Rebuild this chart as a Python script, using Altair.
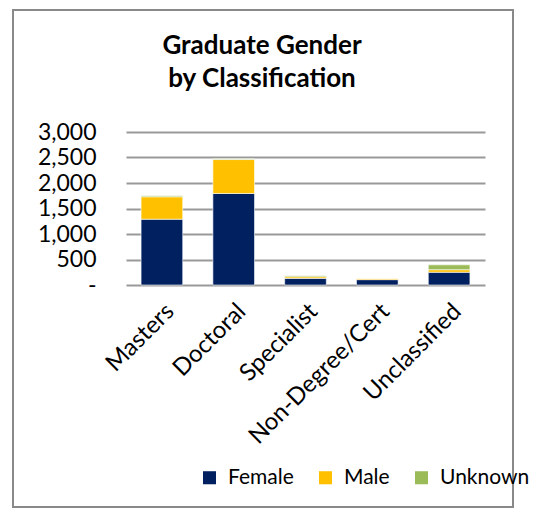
import altair as alt
import pandas as pd

categories = ["Masters", "Doctoral", "Specialist", "Non-Degree/Cert", "Unclassified"]
genders = ["Female", "Male", "Unknown"]
female = [1290, 1795, 130, 105, 250]
male = [440, 665, 32, 25, 50]
unknown = [20, 15, 20, 3, 95]
colors = ["#002060", "#FFC000", "#9BBB59"]
y_ticks = [0, 500, 1000, 1500, 2000, 2500, 3000]
title_text = "Graduate Gender\nby Classification"

rows = []
for i, c in enumerate(categories):
    for g, vals in zip(genders, [female, male, unknown]):
        rows.append({"Classification": c, "Gender": g, "Count": vals[i], "order": genders.index(g)})
df = pd.DataFrame(rows)

FONT = "Lato"

bars = alt.Chart(df).mark_bar(stroke="white", strokeWidth=0.6).encode(
    x=alt.X("Classification:N", sort=categories, title=None,
            scale=alt.Scale(paddingInner=0.42, paddingOuter=0.21),
            axis=alt.Axis(labelAngle=-45, labelFontSize=24, labelFont=FONT,
                          labelColor="#000000", ticks=False, domain=False,
                          labelPadding=14, labelOverlap=False, labelLimit=300)),
    y=alt.Y("Count:Q", stack="zero", title=None,
            scale=alt.Scale(domain=[0, 3000], nice=False),
            axis=alt.Axis(values=y_ticks, labelFontSize=23, labelFont=FONT,
                          labelColor="#000000", ticks=False, domain=False,
                          labelPadding=30, gridColor="#999999", gridWidth=2,
                          labelExpr="datum.value == 0 ? '-' : format(datum.value, ',')")),
    color=alt.Color("Gender:N", sort=genders,
                    scale=alt.Scale(domain=genders, range=colors),
                    legend=alt.Legend(title=None, orient="none", direction="horizontal",
                                      legendX=73, legendY=335, symbolType="square",
                                      symbolSize=170, symbolStrokeWidth=0,
                                      labelFontSize=21, labelFont=FONT,
                                      labelColor="#000000", labelOffset=8,
                                      columnPadding=21)),
    order=alt.Order("order:Q"),
)

one = pd.DataFrame({"k": [1]})

border = alt.Chart(one).mark_rect(fill=None, stroke="#898989", strokeWidth=2).encode(
    x=alt.value(-113), x2=alt.value(387), y=alt.value(-122), y2=alt.value(375)
)

title = alt.Chart(one).mark_text(
    text=title_text, lineBreak="\n", fontSize=26, fontWeight="bold", font=FONT,
    align="center", baseline="middle", lineHeight=33, color="#000000"
).encode(x=alt.value(136), y=alt.value(-86))

chart = alt.layer(border, bars, title).properties(
    width=359, height=153,
    autosize=alt.AutoSizeParams(type="none"),
    padding={"left": 118, "top": 124, "right": 44, "bottom": 225},
).configure_view(stroke=None).configure_axisY(gridOpacity=1).configure_axisX(grid=False)

chart.save("out.html", embed_options={"renderer": "svg", "actions": False})
